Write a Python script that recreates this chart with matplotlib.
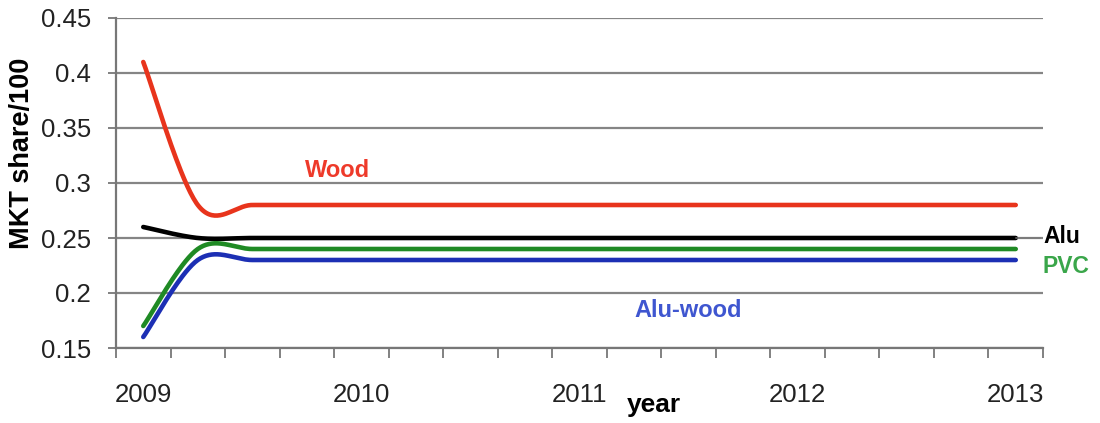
import numpy as np
import matplotlib
matplotlib.use("Agg")
import matplotlib.pyplot as plt

plt.rcParams['font.family'] = ['Liberation Sans', 'DejaVu Sans']

# Quarterly periods, 2009 through 2013
periods = [f"{y}Q{q}" for y in range(2009, 2013) for q in range(1, 5)] + ["2013Q1"]
year_labels = ["2009", "2010", "2011", "2012", "2013"]

wood     = [0.41] + [0.28] * 16
alu      = [0.26] + [0.25] * 16
pvc      = [0.17] + [0.24] * 16
alu_wood = [0.16] + [0.23] * 16


def smooth(xs, ys, n=40):
    """Catmull-Rom style cubic Bezier through every point (spreadsheet smoothing)."""
    xs = np.asarray(xs, float)
    ys = np.asarray(ys, float)
    px = np.concatenate([[xs[0]], xs, [xs[-1]]])
    py = np.concatenate([[ys[0]], ys, [ys[-1]]])
    out_x, out_y = [], []
    t = np.linspace(0, 1, n)
    for i in range(1, len(px) - 2):
        x0, y0 = px[i], py[i]
        x3, y3 = px[i + 1], py[i + 1]
        x1 = x0 + (px[i + 1] - px[i - 1]) / 6
        y1 = y0 + (py[i + 1] - py[i - 1]) / 6
        x2 = x3 - (px[i + 2] - px[i]) / 6
        y2 = y3 - (py[i + 2] - py[i]) / 6
        b0, b1, b2, b3 = (1 - t) ** 3, 3 * (1 - t) ** 2 * t, 3 * (1 - t) * t ** 2, t ** 3
        out_x.append(b0 * x0 + b1 * x1 + b2 * x2 + b3 * x3)
        out_y.append(b0 * y0 + b1 * y1 + b2 * y2 + b3 * y3)
    return np.concatenate(out_x), np.concatenate(out_y)


fig = plt.figure(figsize=(11, 4.23), dpi=100)
ax = fig.add_axes([116 / 1100, 1 - 348 / 423, (1043 - 116) / 1100, (348 - 18) / 423])

x = np.arange(len(periods))
series = [
    (wood, '#E8341C'),
    (alu, '#000000'),
    (pvc, '#1F8A24'),
    (alu_wood, '#1C2FB4'),
]
for vals, col in series:
    sx, sy = smooth(x, vals)
    ax.plot(sx, sy, color=col, lw=3.3, solid_capstyle='round', zorder=3)

ax.set_xlim(-0.5, len(periods) - 0.5)
ax.set_ylim(0.15, 0.45)
ax.set_yticks(np.arange(0.15, 0.451, 0.05))
ax.set_yticklabels(["0.15", "0.2", "0.25", "0.3", "0.35", "0.4", "0.45"])
ax.yaxis.grid(True, color='#858585', lw=1.6)
ax.set_axisbelow(True)

# Tick marks between categories, year labels every fourth quarter
ax.set_xticks(np.arange(-0.5, len(periods), 1.0))
ax.set_xticklabels([])
ax.set_xticks(np.arange(0, len(periods), 4), minor=True)
ax.set_xticklabels(year_labels, minor=True)
ax.tick_params(axis='x', which='minor', length=0, pad=25, labelsize=18.5, labelcolor='#222222')
ax.tick_params(axis='x', which='major', length=7, width=1.3, color='#777777', direction='out')
ax.tick_params(axis='y', length=6, width=1.3, color='#777777', direction='out',
               labelsize=18.5, pad=12, labelcolor='#222222')

for s in ['top', 'right']:
    ax.spines[s].set_visible(False)
for s in ['left', 'bottom']:
    ax.spines[s].set_color('#777777')
    ax.spines[s].set_linewidth(1.6)

fig.text(22 / 1100, 1 - 153 / 423, "MKT share/100", fontsize=19.5, fontweight='bold',
         rotation=90, ha='center', va='center')
fig.text(654 / 1100, 1 - 412 / 423, "year", fontsize=19, fontweight='bold',
         ha='center', va='baseline')

ax.text(3.56, 0.3052, "Wood", color='#EE3A2A', fontsize=17, fontweight='bold',
        ha='center', va='baseline')
ax.text(9.99, 0.1785, "Alu-wood", color='#3F56D0', fontsize=17, fontweight='bold',
        ha='center', va='baseline')
ax.annotate("", xy=(16, alu[-1]), xytext=(16.45, alu[-1]),
            arrowprops=dict(arrowstyle='-', color='#777777', lw=1,
                            shrinkA=0, shrinkB=0),
            annotation_clip=False)
ax.text(16.5, 0.2455, "Alu", color='black', fontsize=16.5, fontweight='bold',
        ha='left', va='baseline', clip_on=False)
ax.text(16.5, 0.2181, "PVC", color='#3AA64A', fontsize=16.5, fontweight='bold',
        ha='left', va='baseline', clip_on=False)

fig.savefig("out.png", dpi=100)
